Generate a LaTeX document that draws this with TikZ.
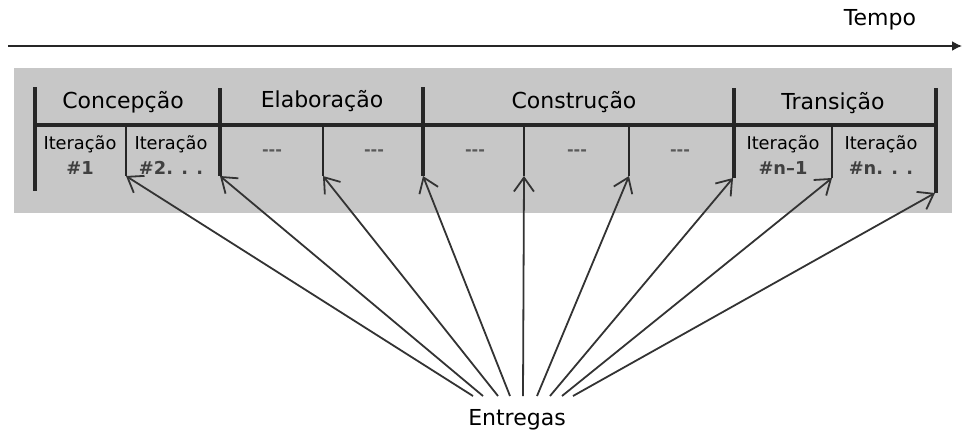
\documentclass[tikz,border=0pt]{standalone}
\usepackage{fontspec}
\setmainfont{DejaVu Sans}
\usetikzlibrary{arrows.meta,positioning}

\begin{document}
\begin{tikzpicture}[x=0.5pt, y=-0.5pt,
  phase/.style={font=\fontsize{11}{13}\selectfont},
  iter/.style={font=\fontsize{8.9}{12.5}\selectfont, align=center},
  gap/.style={font=\fontsize{8}{10}\selectfont\bfseries, text=black!65},
  bar/.style={line width=2pt, black!85},
  sub/.style={line width=1pt, black!85},
  arr/.style={-{Straight Barb[length=7pt,width=10pt]}, line width=0.9pt, black!80}]
\useasboundingbox (0,0) rectangle (964,434);
% band
\fill[black!22] (14,68) rectangle (952,213);
% time axis
\coordinate (t0) at (8,46);
\coordinate (t1) at (962,46);
\draw[-{Latex[length=5pt,width=5pt]}, line width=0.8pt, black!85] (t0) -- (t1);
\node[phase] (tempo) at (880,20) {Tempo};
% phase frame
\draw[bar] (35,125) -- (936,125);
\draw[bar] (35,87) -- (35,191);
\draw[bar] (220,88) -- (220,176);
\draw[bar] (423,87) -- (423,176);
\draw[bar] (734,88) -- (734,178);
\draw[bar] (936,88) -- (936,193);
\draw[sub] (126,125) -- (126,176);
\draw[sub] (323,125) -- (323,176);
\draw[sub] (524,125) -- (524,176);
\draw[sub] (629,125) -- (629,176);
\draw[sub] (832,125) -- (832,178);
% phases
\node[phase] (conc) at (123,102) {Concepção};
\node[phase] (elab) at (322,101) {Elaboração};
\node[phase] (cons) at (574,102) {Construção};
\node[phase] (tran) at (833,103) {Transição};
% iterations
\node[iter] (it1) at (80,155) {Iteração\\\textcolor{black!75}{\bfseries\#1}};
\node[iter] (it2) at (171,155) {Iteração\\\textcolor{black!75}{\bfseries\#2. . .}};
\node[gap] (g1) at (272,153) {-{}-{}-};
\node[gap] (g2) at (374,153) {-{}-{}-};
\node[gap] (g3) at (475,153) {-{}-{}-};
\node[gap] (g4) at (577,153) {-{}-{}-};
\node[gap] (g5) at (680,153) {-{}-{}-};
\node[iter] (itn1) at (783,155) {Iteração\\\textcolor{black!75}{\bfseries\#n–1}};
\node[iter] (itn) at (881,155) {Iteração\\\textcolor{black!75}{\bfseries\#n. . .}};
% deliveries
\node[phase] (ent) at (517,420) {Entregas};
\foreach \i/\sx/\dx/\dy in {1/473/126/176, 2/483/220/176, 3/498/323/176,
    4/510/423/176, 5/523/524/176, 6/537/629/176, 7/550/733/178,
    8/562/832/178, 9/573/935/193} {
  \coordinate (s\i) at (\sx,396);
  \coordinate (d\i) at (\dx,\dy);
  \draw[arr] (s\i) -- (d\i);
}
\end{tikzpicture}
\end{document}
